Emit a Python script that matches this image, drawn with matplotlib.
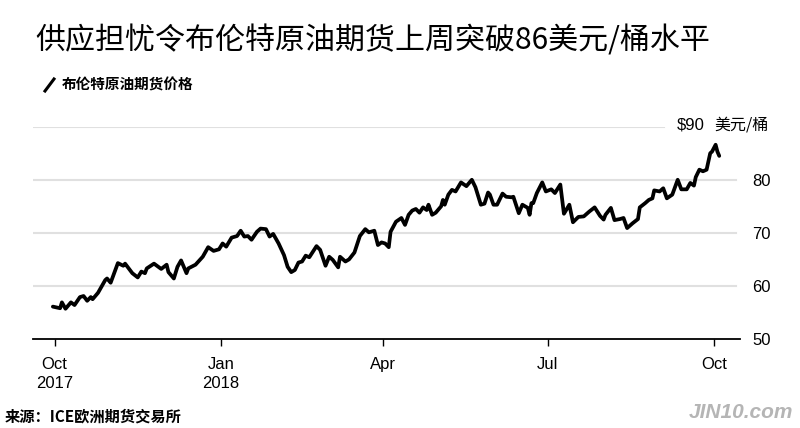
import pandas as pd
import matplotlib
matplotlib.use('Agg')
import matplotlib.pyplot as plt
from matplotlib.lines import Line2D

plt.rcParams['font.family'] = ['Liberation Sans', 'Noto Sans CJK SC']

# Dados: dias desde 2017-10-01 e preco do Brent (USD/barril)
start = pd.Timestamp('2017-10-01')
days = [-1, 3, 4, 6, 9, 11, 14, 16, 18, 20, 21, 24, 28, 29, 31, 35, 38, 39, 43, 46,
        48, 50, 51, 55, 59, 62, 63, 66, 68, 70, 73, 74, 78, 82,
        85, 88, 91, 93, 95, 98, 101, 103, 105, 107, 109, 112, 114, 117, 119, 121, 124, 127, 129, 131,
        133, 135, 137, 139, 141, 145, 147, 150, 152, 154, 157, 158, 161, 163, 166, 169, 172, 174, 177, 179,
        181, 183, 185, 186, 189, 192, 194, 196, 198, 200, 202, 204, 206, 207, 209, 211, 214, 215, 216, 218,
        220, 222, 225, 228, 231, 233, 236, 238, 240, 241, 243, 245, 248, 250,
        253, 254, 257, 259, 262, 263, 264, 265, 267, 270, 272, 275, 277, 280, 282, 285, 287, 290, 293, 296,
        299, 302, 304, 305, 308, 310, 313, 315, 317, 320, 323, 324, 327, 329, 331, 332, 335, 337, 339, 342,
        345, 347, 350, 352, 354, 355, 357, 359, 361, 363, 364, 366, 367, 368]
brent = [56.1, 55.8, 56.9, 55.7, 56.9, 56.4, 57.9, 58.1, 57.2, 57.9, 57.5, 58.7, 61.1, 61.4, 60.6, 64.3, 63.8, 64.2, 62.4, 61.6,
         62.7, 62.4, 63.3, 64.2, 63.2, 64.0, 62.6, 61.4, 63.6, 64.8, 62.4, 63.3, 64.0, 65.5,
         67.3, 66.6, 66.9, 68.0, 67.4, 69.1, 69.4, 70.4, 69.3, 69.4, 68.7, 70.2, 70.8, 70.7, 69.3, 69.8, 68.0, 65.8, 63.6, 62.6,
         63.0, 64.4, 64.6, 65.7, 65.4, 67.5, 66.8, 63.8, 65.5, 64.9, 63.5, 65.5, 64.6, 65.0, 66.3, 69.4, 70.7, 70.1, 70.4, 67.7,
         68.2, 68.0, 67.3, 70.2, 72.1, 72.8, 71.5, 73.4, 74.2, 74.5, 73.8, 74.8, 74.3, 75.3, 73.4, 73.8, 75.0, 76.2, 75.3, 77.2,
         78.1, 77.8, 79.5, 78.8, 80.0, 78.6, 75.3, 75.5, 77.6, 77.2, 75.3, 75.3, 77.4, 76.8,
         76.7, 76.8, 73.7, 75.3, 74.7, 73.4, 75.6, 75.6, 77.5, 79.5, 77.8, 78.2, 77.5, 79.1, 73.6, 75.3, 72.0, 73.0, 73.1, 74.0,
         74.8, 73.2, 72.5, 73.4, 74.7, 72.4, 72.6, 72.8, 70.9, 71.8, 72.6, 74.8, 75.6, 76.2, 76.5, 78.0, 77.8, 78.4, 76.5, 77.2,
         80.0, 78.2, 78.2, 79.4, 78.9, 80.5, 81.9, 81.6, 81.9, 85.0, 85.3, 86.6, 85.3, 84.5]

tick_dates = ['2017-10-01', '2018-01-01', '2018-04-01', '2018-07-01', '2018-10-01']
tick_labels = ['Oct\n2017', 'Jan\n2018', 'Apr', 'Jul', 'Oct']
y_ticks = [50, 60, 70, 80]

dates = start + pd.to_timedelta(days, unit='D')

fig = plt.figure(figsize=(8, 4.28), dpi=100)
ax = fig.add_axes([33 / 800, 89 / 428, 707 / 800, 212.3 / 428])

# Linhas de grade
for v in [60, 70, 80]:
    ax.axhline(v, xmax=0.994, color='#e0e0e0', lw=1.5, zorder=0)
ax.axhline(90, xmax=0.892, color='#e0e0e0', lw=1.5, zorder=0)

ax.plot(dates, brent, color='black', lw=2.7, solid_joinstyle='round', solid_capstyle='round', zorder=3)

ax.set_xlim(start - pd.Timedelta(days=12), start + pd.Timedelta(days=379.5))
ax.set_ylim(50, 90)

for s in ['top', 'left', 'right']:
    ax.spines[s].set_visible(False)
ax.spines['bottom'].set_linewidth(1.3)

ax.set_xticks(pd.to_datetime(tick_dates))
ax.set_xticklabels(tick_labels, fontsize=12, linespacing=1.35)
ax.tick_params(axis='x', length=5, width=1, pad=8, color='black')

ax.yaxis.tick_right()
ax.set_yticks(y_ticks)
ax.set_yticklabels([str(v) for v in y_ticks], fontsize=12)
ax.tick_params(axis='y', length=0, pad=9)

trans = ax.get_yaxis_transform()
ax.text(0.950, 90.3, '$90', transform=trans, ha='right', va='center', fontsize=12)
ax.text(0.964, 90.3, '美元/桶', transform=trans, ha='left', va='center', fontsize=11.5,
        family=['Noto Sans CJK SC'])

# Titulo, legenda e fonte
fig.text(35 / 800, 1 - 41 / 428, '供应担忧令布伦特原油期货上周突破86美元/桶水平', fontsize=21.6,
         family=['Noto Sans CJK SC'], va='center', ha='left')
fig.add_artist(Line2D([45 / 800, 54 / 800], [1 - 91 / 428, 1 - 79 / 428], color='black', lw=2.2))
fig.text(62 / 800, 1 - 85 / 428, '布伦特原油期货价格', fontsize=10.5, weight='bold',
         family=['Noto Sans CJK SC'], va='center', ha='left')
fig.text(5 / 800, 1 - 416 / 428, '来源：ICE欧洲期货交易所', fontsize=11, weight='bold',
         family=['Noto Sans CJK SC', 'Liberation Sans'], va='center', ha='left')
fig.text(793 / 800, 1 - 412 / 428, 'JIN10.com', fontsize=15, weight='bold', style='italic',
         color='#b5b5b5', va='center', ha='right')

fig.savefig('out.png', dpi=100, facecolor='white')
